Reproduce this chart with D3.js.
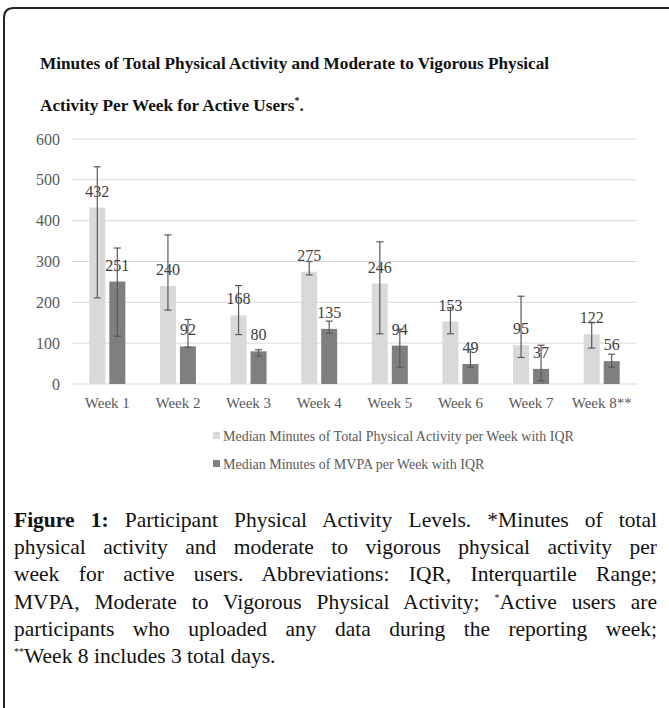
<!DOCTYPE html>
<html>
<head>
<meta charset="utf-8">
<script src="https://cdn.jsdelivr.net/npm/d3@7"></script>
<style>
  body { margin: 0; background: #fff; }
  #wrap { position: relative; width: 669px; height: 708px; overflow: hidden; }
  svg { position: absolute; left: 0; top: 0; }
  svg text { font-family: 'Liberation Serif', 'Times New Roman', Times, serif; }
  .caption {
    position: absolute; left: 14px; top: 507px; width: 643px;
    font-family: 'Liberation Serif', 'Times New Roman', Times, serif;
    font-size: 21.5px; line-height: 27.2px; color: #111;
  }
  .caption div { text-align: justify; text-align-last: justify; white-space: nowrap; }
  .caption div.last { text-align-last: left; }
  .caption b { font-weight: bold; }
  .caption sup { font-size: 10px; vertical-align: 8px; line-height: 0; }
</style>
</head>
<body>
<div id="wrap">
  <svg class="chart"></svg>
  <div class="caption">
    <div><b>Figure 1:</b> Participant Physical Activity Levels. *Minutes of total</div>
    <div>physical activity and moderate to vigorous physical activity per</div>
    <div>week for active users. Abbreviations: IQR, Interquartile Range;</div>
    <div>MVPA, Moderate to Vigorous Physical Activity; <sup>*</sup>Active users are</div>
    <div>participants who uploaded any data during the reporting week;</div>
    <div class="last"><sup>**</sup>Week 8 includes 3 total days.</div>
  </div>
</div>
<script>
const weeks = ['Week 1', 'Week 2', 'Week 3', 'Week 4', 'Week 5', 'Week 6', 'Week 7', 'Week 8**']
const totalMedian = [432, 240, 168, 275, 246, 153, 95, 122]
const totalQ1 = [211, 181, 121, 267, 123, 123, 65, 88]
const totalQ3 = [532, 365, 241, 300, 348, 187, 215, 150]
const mvpaMedian = [251, 92, 80, 135, 94, 49, 37, 56]
const mvpaQ1 = [117, 90, 68, 124, 41, 41, 8, 41]
const mvpaQ3 = [333, 158, 84, 154, 134, 85, 95, 73]
const seriesNames = [
  'Median Minutes of Total Physical Activity per Week with IQR',
  'Median Minutes of MVPA per Week with IQR'
]
const seriesColors = ['#d9d9d9', '#7f7f7f']
const yTicks = [0, 100, 200, 300, 400, 500, 600]

const series = [
  { name: seriesNames[0], median: totalMedian, q1: totalQ1, q3: totalQ3 },
  { name: seriesNames[1], median: mvpaMedian, q1: mvpaQ1, q3: mvpaQ3 }
]

const width = 669
const height = 708
const textColor = '#595959'
const serif = "'Liberation Serif', 'Times New Roman', Times, serif"

const chart = d3.select('.chart')
  .attr('width', width)
  .attr('height', height)
  .attr('font-family', serif)

// frame with rounded top-left corner
chart.append('path')
  .attr('d', 'M4,720 L4,18 Q4,8 14,8 L680,8')
  .attr('fill', 'none')
  .attr('stroke', '#222')
  .attr('stroke-width', 2)

const title = chart.append('g')
  .attr('font-weight', 'bold')
  .attr('font-size', 17.2)
  .attr('fill', '#111')
title.append('text').attr('x', 40).attr('y', 69)
  .text('Minutes of Total Physical Activity and Moderate to Vigorous Physical')
const t2 = title.append('text').attr('x', 40).attr('y', 111)
t2.append('tspan').text('Activity Per Week for Active Users')
t2.append('tspan').attr('dy', -7).attr('font-size', 10).text('*')
t2.append('tspan').attr('dy', 7).text('.')

const x0 = d3.scaleBand()
  .domain(weeks)
  .range([72, 637])

const x1 = d3.scaleBand()
  .domain(d3.range(series.length))
  .range([-18, 18])
  .paddingInner(0.2)

const y = d3.scaleLinear()
  .domain([0, 600])
  .range([384, 139])

// gridlines
chart.append('g')
  .selectAll('line')
  .data(yTicks)
  .enter()
  .append('line')
  .attr('x1', 72)
  .attr('x2', 637)
  .attr('y1', d => y(d))
  .attr('y2', d => y(d))
  .attr('stroke', '#d9d9d9')
  .attr('stroke-width', 1)

const yAxis = chart.append('g')
  .attr('transform', 'translate(60,0)')
  .call(d3.axisLeft(y).tickValues(yTicks).tickSize(0).tickPadding(0))
yAxis.select('.domain').remove()
yAxis.selectAll('text')
  .attr('font-family', serif)
  .attr('font-size', 16)
  .attr('fill', textColor)

const xAxis = chart.append('g')
  .attr('transform', 'translate(0,397)')
  .call(d3.axisBottom(x0).tickSize(0).tickPadding(0))
xAxis.select('.domain').remove()
xAxis.selectAll('text')
  .attr('font-family', serif)
  .attr('font-size', 15)
  .attr('fill', textColor)

const groups = chart.append('g')
  .selectAll('g')
  .data(weeks)
  .enter()
  .append('g')
  .attr('transform', w => `translate(${x0(w) + x0.bandwidth() / 2},0)`)

groups.each((week, i, nodes) => {
  const g = d3.select(nodes[i])
  series.forEach((s, k) => {
    const bx = x1(k)
    const cx = bx + x1.bandwidth() / 2
    g.append('rect')
      .attr('x', bx)
      .attr('width', x1.bandwidth())
      .attr('y', y(s.median[i]))
      .attr('height', y(0) - y(s.median[i]))
      .attr('fill', seriesColors[k])
    g.append('text')
      .attr('x', cx)
      .attr('y', y(s.median[i]) - 11)
      .attr('text-anchor', 'middle')
      .attr('font-size', 16)
      .attr('fill', '#404040')
      .text(s.median[i])
    const err = g.append('g')
      .attr('stroke', '#595959')
      .attr('stroke-width', 1.2)
    err.append('line')
      .attr('x1', cx).attr('x2', cx)
      .attr('y1', y(s.q3[i])).attr('y2', y(s.q1[i]))
    err.selectAll('.cap')
      .data([s.q1[i], s.q3[i]])
      .enter()
      .append('line')
      .attr('x1', cx - 3.5).attr('x2', cx + 3.5)
      .attr('y1', d => y(d)).attr('y2', d => y(d))
  })
})

const legend = chart.append('g')
  .selectAll('g')
  .data(series)
  .enter()
  .append('g')
  .attr('transform', (d, i) => `translate(213,${436 + i * 28})`)
legend.append('rect')
  .attr('x', 0).attr('y', -4)
  .attr('width', 7).attr('height', 7)
  .attr('fill', (d, i) => seriesColors[i])
legend.append('text')
  .attr('x', 10)
  .attr('y', 4.5)
  .attr('font-size', 14)
  .attr('fill', textColor)
  .text(d => d.name)
</script>
</body>
</html>
